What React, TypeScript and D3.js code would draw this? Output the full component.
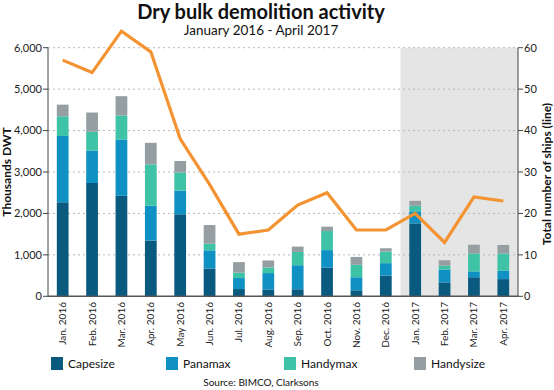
import * as d3 from 'd3';

// months on the x axis
const months = [
  'Jan. 2016', 'Feb. 2016', 'Mar. 2016', 'Apr. 2016', 'May 2016', 'Jun. 2016',
  'Jul. 2016', 'Aug. 2016', 'Sep. 2016', 'Oct. 2016', 'Nov. 2016', 'Dec. 2016',
  'Jan. 2017', 'Feb. 2017', 'Mar. 2017', 'Apr. 2017',
];

// thousands DWT per segment
const capesize = [2270, 2735, 2425, 1345, 1980, 670, 175, 165, 170, 690, 145, 500, 1760, 335, 460, 415];
const panamax = [1600, 785, 1360, 840, 570, 440, 265, 395, 580, 425, 315, 300, 290, 310, 140, 205];
const handymax = [475, 450, 580, 1000, 440, 160, 130, 135, 320, 460, 300, 280, 135, 95, 435, 410];
const handysize = [280, 465, 465, 520, 275, 450, 255, 170, 130, 105, 190, 80, 120, 130, 210, 210];

// total number of ships (line, right axis)
const ships = [57, 54, 64, 59, 38, 27, 15, 16, 22, 25, 16, 16, 20, 13, 24, 23];

const seriesNames = ['Capesize', 'Panamax', 'Handymax', 'Handysize'];
const seriesColors = ['#0a5a7f', '#0f91c3', '#3ec3a6', '#959fa2'];
const leftTicks = [0, 1000, 2000, 3000, 4000, 5000, 6000];
const rightTicks = [0, 10, 20, 30, 40, 50, 60];

const W = 554, H = 390;
const X0 = 48, X1 = 518, Y0 = 296.3, Y1 = 47.7;
const FONT = 'Lato, "Open Sans", sans-serif';

export default function App() {
  const rows = months.map((m, i) => ({
    month: m,
    Capesize: capesize[i],
    Panamax: panamax[i],
    Handymax: handymax[i],
    Handysize: handysize[i],
  }));
  const stacked = d3.stack<any>().keys(seriesNames)(rows);

  const x = d3.scaleBand().domain(months).range([X0, X1]).paddingInner(0.6).paddingOuter(0.3);
  const band = d3.scaleBand().domain(months).range([X0, X1]); // for shading
  const y = d3.scaleLinear().domain([0, 6000]).range([Y0, Y1]);
  const y2 = d3.scaleLinear().domain([0, 60]).range([Y0, Y1]);

  const line = d3.line<number>()
    .x((_, i) => (x(months[i]) as number) + x.bandwidth() / 2)
    .y(d => y2(d));

  const shadeX = band('Jan. 2017') as number;

  // legend positions
  const legendX = [51, 166, 284, 414];

  return (
    <svg width={W} height={H} style={{ position: 'absolute', left: 0, top: 0, background: '#fff' }}>
      <text x={261} y={18.5} textAnchor="middle" fontFamily={FONT} fontWeight="bold" fontSize={20} fill="#111">
        Dry bulk demolition activity
      </text>
      <text x={261} y={35} textAnchor="middle" fontFamily={FONT} fontSize={13.5} fill="#111">
        January 2016 - April 2017
      </text>

      <rect x={shadeX} y={Y1} width={X1 - shadeX} height={Y0 - Y1} fill="#e5e5e5" />

      {leftTicks.slice(1).map(t => (
        <line key={t} x1={X0} x2={X1} y1={y(t)} y2={y(t)} stroke="#b8b8b8" strokeWidth={1} strokeDasharray="2,3" />
      ))}

      {stacked.map((s, si) => (
        <g key={s.key} fill={seriesColors[si]}>
          {s.map((d, i) => (
            <rect key={i} x={x(months[i])} width={x.bandwidth()} y={y(d[1])} height={y(d[0]) - y(d[1])} />
          ))}
        </g>
      ))}

      <path d={line(ships) as string} fill="none" stroke="#f39331" strokeWidth={3.2} strokeLinejoin="miter" />

      {/* axes */}
      <line x1={X0} x2={X0} y1={Y1} y2={Y0} stroke="#444" strokeWidth={1} />
      <line x1={X1} x2={X1} y1={Y1} y2={Y0} stroke="#444" strokeWidth={1} />
      <line x1={X0} x2={X1} y1={Y0} y2={Y0} stroke="#555" strokeWidth={1.5} />
      {leftTicks.map(t => (
        <g key={t}>
          <line x1={X0 - 5} x2={X0} y1={y(t)} y2={y(t)} stroke="#444" />
          <text x={X0 - 6} y={y(t)} dy="0.35em" textAnchor="end" fontFamily={FONT} fontSize={11} fill="#222">
            {d3.format(',')(t)}
          </text>
        </g>
      ))}
      {rightTicks.map(t => (
        <g key={t}>
          <line x1={X1} x2={X1 + 5} y1={y2(t)} y2={y2(t)} stroke="#444" />
          <text x={X1 + 6} y={y2(t)} dy="0.35em" textAnchor="start" fontFamily={FONT} fontSize={11} fill="#222">
            {t}
          </text>
        </g>
      ))}
      {months.map(m => {
        const cx = (x(m) as number) + x.bandwidth() / 2;
        return (
          <text key={m} transform={`translate(${cx + 3.5},302) rotate(-90)`} textAnchor="end"
            fontFamily={FONT} fontSize={10} fill="#222">
            {m}
          </text>
        );
      })}

      <text transform={`translate(11,${(Y0 + Y1) / 2}) rotate(-90)`} textAnchor="middle"
        fontFamily={FONT} fontWeight="bold" fontSize={12} fill="#111">
        Thousands DWT
      </text>
      <text transform={`translate(551,${(Y0 + Y1) / 2 + 2}) rotate(-90)`} textAnchor="middle"
        fontFamily={FONT} fontWeight="bold" fontSize={12} fill="#111">
        Total number of ships (line)
      </text>

      {seriesNames.map((n, i) => (
        <g key={n}>
          <rect x={legendX[i]} y={357} width={12} height={13} fill={seriesColors[i]} />
          <text x={legendX[i] + 17} y={368} fontFamily={FONT} fontSize={12} fill="#111">{n}</text>
        </g>
      ))}

      <text x={261} y={386} textAnchor="middle" fontFamily={FONT} fontSize={10} fill="#111">
        Source: BIMCO, Clarksons
      </text>
    </svg>
  );
}
